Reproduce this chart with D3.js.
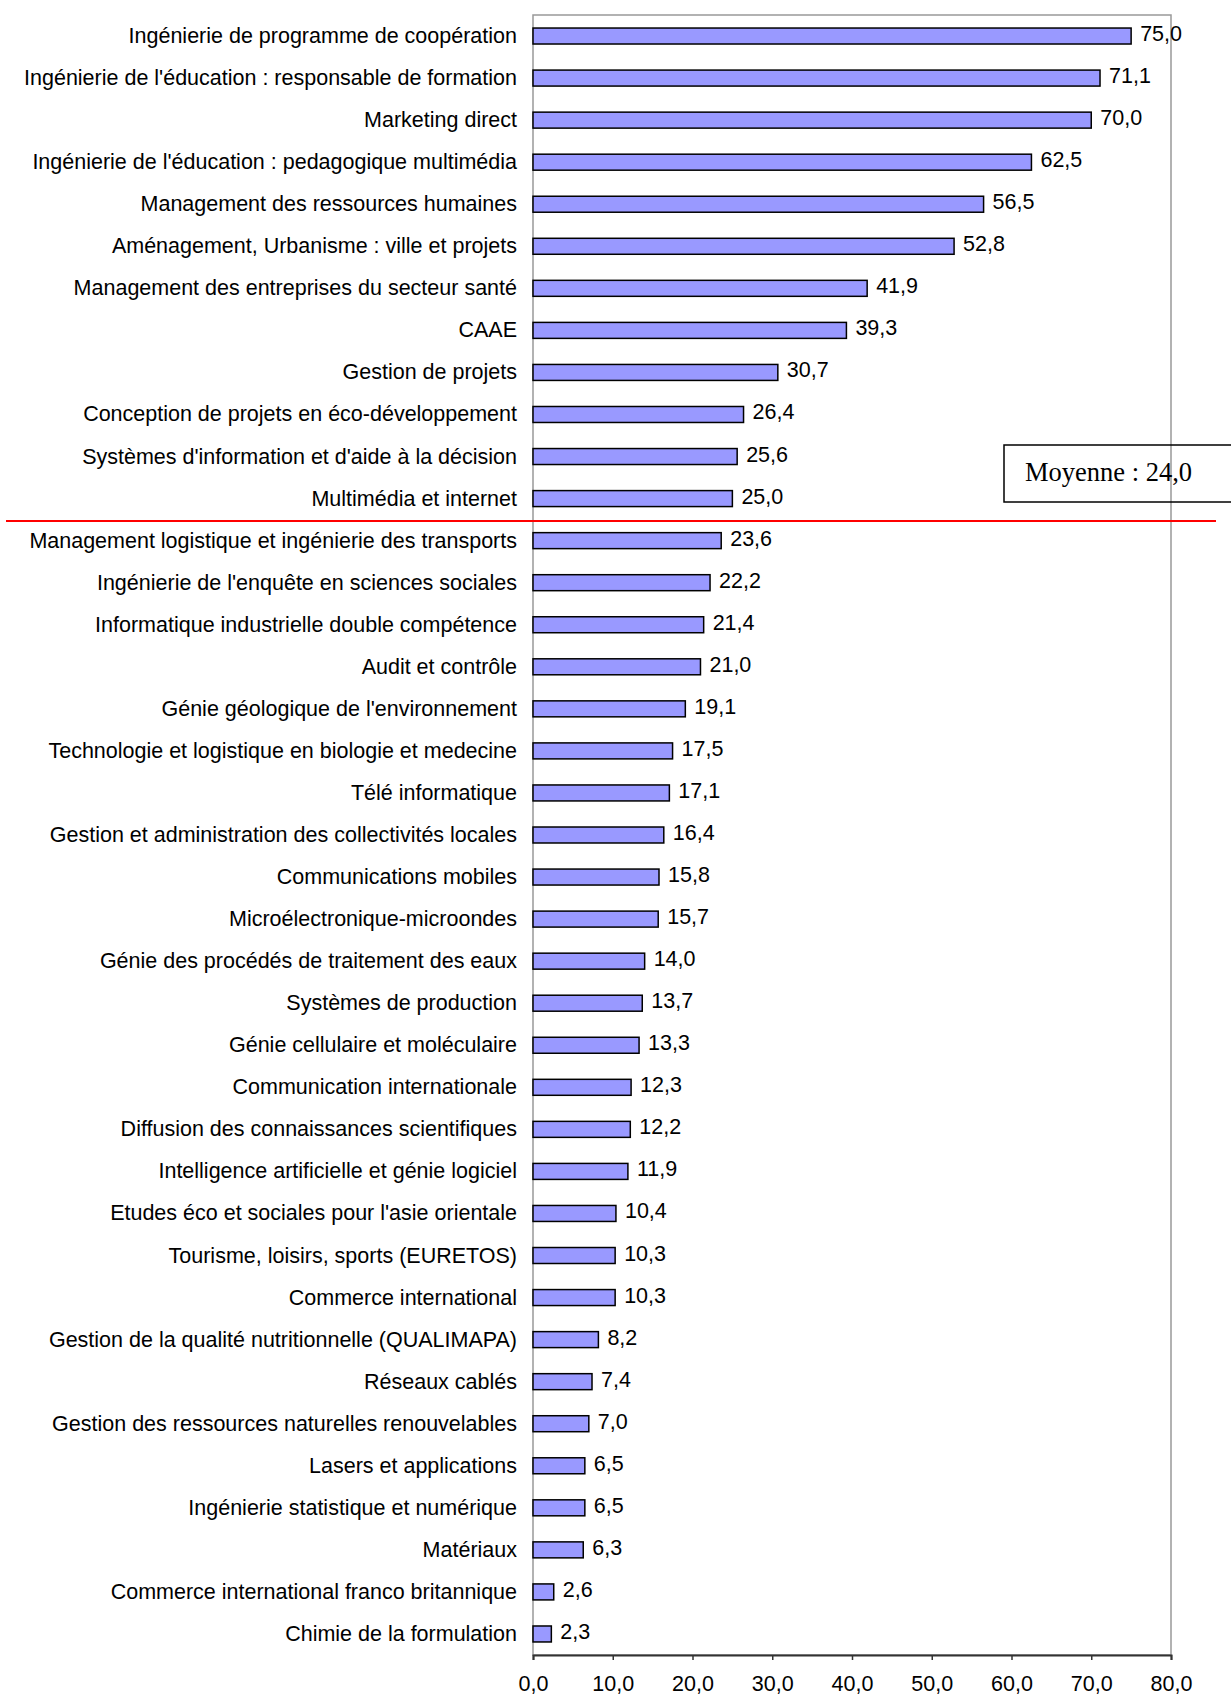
<!DOCTYPE html>
<html>
<head>
<meta charset="utf-8">
<script src="https://cdn.jsdelivr.net/npm/d3@7"></script>
<style>
  html, body { margin: 0; padding: 0; background: #fff; }
  svg { display: block; }
</style>
</head>
<body>
<svg id="chart" width="1231" height="1698"></svg>
<script>
const categories = [
  "Ingénierie de programme de coopération",
  "Ingénierie de l'éducation : responsable de formation",
  "Marketing direct",
  "Ingénierie de l'éducation : pedagogique multimédia",
  "Management des ressources humaines",
  "Aménagement, Urbanisme : ville et projets",
  "Management des entreprises du secteur santé",
  "CAAE",
  "Gestion de projets",
  "Conception de projets en éco-développement",
  "Systèmes d'information et d'aide à la décision",
  "Multimédia et internet",
  "Management logistique et ingénierie des transports",
  "Ingénierie de l'enquête en sciences sociales",
  "Informatique industrielle double compétence",
  "Audit et contrôle",
  "Génie géologique de l'environnement",
  "Technologie et logistique en biologie et medecine",
  "Télé informatique",
  "Gestion et administration des collectivités locales",
  "Communications mobiles",
  "Microélectronique-microondes",
  "Génie des procédés de traitement des eaux",
  "Systèmes de production",
  "Génie cellulaire et moléculaire",
  "Communication internationale",
  "Diffusion des connaissances scientifiques",
  "Intelligence artificielle et génie logiciel",
  "Etudes éco et sociales pour l'asie orientale",
  "Tourisme, loisirs, sports (EURETOS)",
  "Commerce international",
  "Gestion de la qualité nutritionnelle (QUALIMAPA)",
  "Réseaux cablés",
  "Gestion des ressources naturelles renouvelables",
  "Lasers et applications",
  "Ingénierie statistique et numérique",
  "Matériaux",
  "Commerce international franco britannique",
  "Chimie de la formulation"
];
const values = [
  75.0, 71.1, 70.0, 62.5, 56.5, 52.8, 41.9, 39.3, 30.7, 26.4, 25.6, 25.0,
  23.6, 22.2, 21.4, 21.0, 19.1, 17.5, 17.1, 16.4, 15.8, 15.7, 14.0, 13.7,
  13.3, 12.3, 12.2, 11.9, 10.4, 10.3, 10.3, 8.2, 7.4, 7.0, 6.5, 6.5, 6.3,
  2.6, 2.3
];
const xTicks = [0, 10, 20, 30, 40, 50, 60, 70, 80];
const meanValue = 24.0;
const meanLabel = "Moyenne : 24,0";

(function () {
  const fmt = v => v.toFixed(1).replace(".", ",");
  const data = categories.map((c, i) => ({ cat: c, val: values[i] }));

  const svg = d3.select("#chart");
  const pLeft = 533, pRight = 1171, pTop = 15, pBottom = 1655;

  const x = d3.scaleLinear().domain([0, 80]).range([pLeft, pRight]);
  const y = d3.scaleBand().domain(categories).range([pTop, pBottom])
    .paddingInner(0.62).paddingOuter(0.31);

  const font = "'Liberation Sans', Arial, sans-serif";
  const fs = 21.5;

  // plot border (gray)
  svg.append("rect")
    .attr("x", pLeft).attr("y", pTop)
    .attr("width", pRight - pLeft).attr("height", pBottom - pTop)
    .attr("fill", "none").attr("stroke", "#999").attr("stroke-width", 1.5);

  // bars
  svg.append("g").selectAll("rect").data(data).join("rect")
    .attr("x", x(0))
    .attr("y", d => y(d.cat))
    .attr("width", d => x(d.val) - x(0))
    .attr("height", y.bandwidth())
    .attr("fill", "#9999FF")
    .attr("stroke", "#000")
    .attr("stroke-width", 1.5);

  // value labels
  svg.append("g").selectAll("text").data(data).join("text")
    .attr("x", d => x(d.val) + 9)
    .attr("y", d => y(d.cat) + y.bandwidth() / 2 + 5)
    .attr("font-family", font).attr("font-size", fs)
    .attr("fill", "#000")
    .text(d => fmt(d.val));

  // category labels
  svg.append("g").selectAll("text").data(data).join("text")
    .attr("x", pLeft - 16)
    .attr("y", d => y(d.cat) + y.bandwidth() / 2 + 7)
    .attr("text-anchor", "end")
    .attr("font-family", font).attr("font-size", fs)
    .attr("fill", "#000")
    .text(d => d.cat);

  // x axis
  const xAxis = d3.axisBottom(x).tickValues(xTicks).tickFormat(fmt)
    .tickSize(5).tickPadding(16);
  const gx = svg.append("g").attr("transform", `translate(0,${pBottom})`).call(xAxis);
  gx.select(".domain").attr("stroke", "#333").attr("stroke-width", 2);
  gx.selectAll(".tick line").attr("stroke", "#333").attr("stroke-width", 1.5);
  gx.selectAll(".tick text").attr("font-family", font).attr("font-size", fs).attr("fill", "#000");

  // mean line: boundary between last category above mean and first below
  const idxBelow = values.findIndex(v => v < meanValue);
  const lineY = y(categories[idxBelow]) - y.step() * y.paddingInner() / 2;
  svg.append("line")
    .attr("x1", 6).attr("x2", 1216)
    .attr("y1", lineY + 1.5).attr("y2", lineY + 1.5)
    .attr("stroke", "#FF0000").attr("stroke-width", 2);

  // mean box
  svg.append("rect")
    .attr("x", 1004).attr("y", 445)
    .attr("width", 240).attr("height", 57)
    .attr("fill", "none").attr("stroke", "#000").attr("stroke-width", 1.5);
  svg.append("text")
    .attr("x", 1025).attr("y", 481)
    .attr("font-family", "'Liberation Serif', 'Times New Roman', serif")
    .attr("font-size", 26.5)
    .attr("fill", "#000")
    .text(meanLabel);
})();
</script>
</body>
</html>
